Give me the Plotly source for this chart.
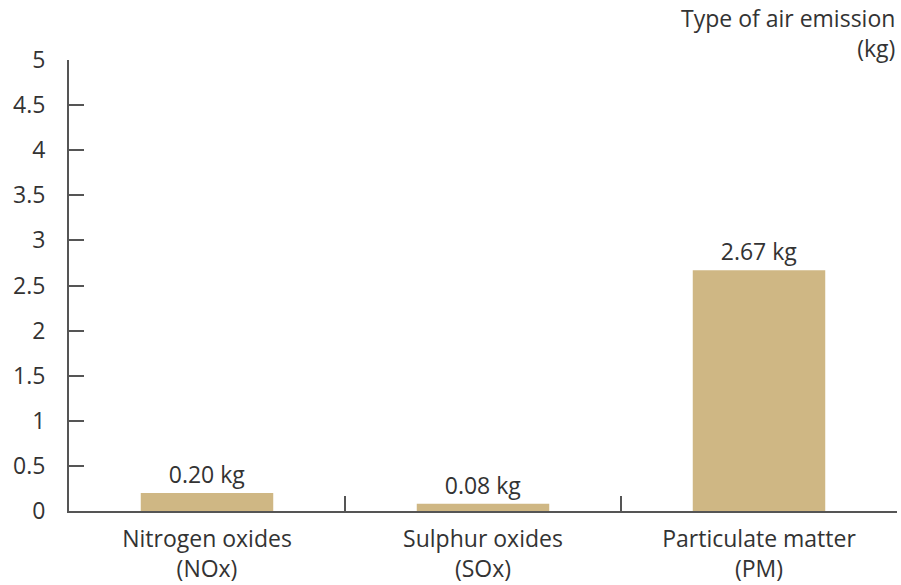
import plotly.graph_objects as go

categories = ["Nitrogen oxides<br>(NOx)", "Sulphur oxides<br>(SOx)", "Particulate matter<br>(PM)"]
values = [0.20, 0.08, 2.67]
value_labels = ["0.20 kg", "0.08 kg", "2.67 kg"]
y_ticks = [0, 0.5, 1, 1.5, 2, 2.5, 3, 3.5, 4, 4.5, 5]
y_tick_labels = ["0", "0.5", "1", "1.5", "2", "2.5", "3", "3.5", "4", "4.5", "5"]

FONT = "Open Sans, Noto Sans, sans-serif"
TXT = "#333333"
AX = "#555555"
FS = 23

fig = go.Figure(go.Bar(
    x=categories, y=values, text=value_labels, textposition="outside",
    textfont=dict(family=FONT, size=FS, color=TXT),
    marker=dict(color="#cfb784", line=dict(width=0)),
    width=0.48, cliponaxis=False,
))

fig.update_layout(
    width=901, height=585,
    margin=dict(l=69, r=4, t=60, b=74, autoexpand=False),
    paper_bgcolor="white", plot_bgcolor="white",
    showlegend=False,
    font=dict(family=FONT, size=FS, color=TXT),
    xaxis=dict(
        range=[-0.5, 2.5], showline=True, linecolor=AX, linewidth=2,
        ticks="inside", tickson="boundaries", ticklen=15, tickcolor=AX, tickwidth=1.5,
        showgrid=False, zeroline=False, automargin=False, ticklabelstandoff=6,
        tickfont=dict(family=FONT, size=FS, color=TXT),
    ),
    yaxis=dict(
        range=[0, 5], tickvals=y_ticks, ticktext=y_tick_labels,
        showline=True, linecolor=AX, linewidth=2,
        ticks="inside", ticklen=15, tickcolor=AX, tickwidth=1.5,
        showgrid=False, zeroline=False, ticklabelstandoff=17, automargin=False,
        tickfont=dict(family=FONT, size=FS, color=TXT),
    ),
    annotations=[dict(
        text="Type of air emission<br>(kg)", xref="paper", yref="paper",
        x=1, y=1, xanchor="right", yanchor="bottom", yshift=-6, align="right",
        showarrow=False, font=dict(family=FONT, size=FS, color=TXT),
    )],
)

fig.write_html(
    "out.html",
    config={"displayModeBar": False},
    post_script="document.body.style.margin='0';document.body.style.overflow='hidden';",
)
